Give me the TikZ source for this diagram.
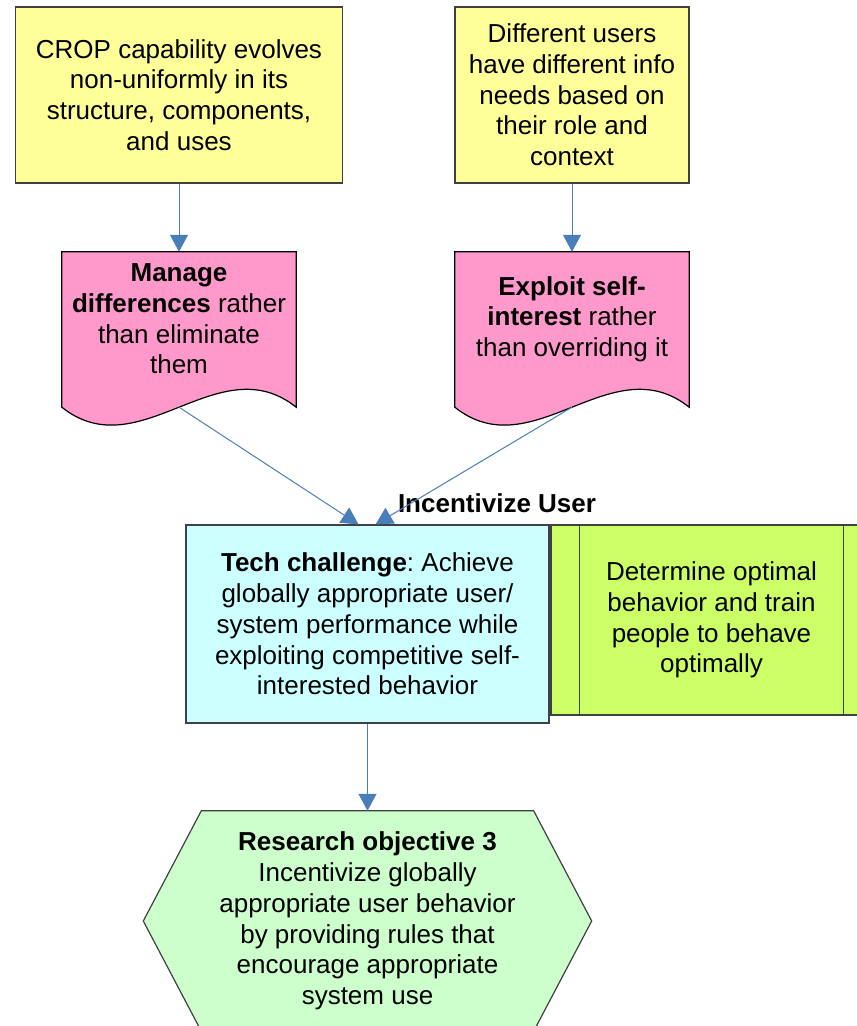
\documentclass[tikz,border=0pt]{standalone}
\usepackage{fontspec}
\setmainfont{Liberation Sans}
\usetikzlibrary{arrows.meta,backgrounds}

\definecolor{notefill}{HTML}{FFFF99}
\definecolor{docfill}{HTML}{FF99CC}
\definecolor{techfill}{HTML}{CCFFFF}
\definecolor{altfill}{HTML}{CCFF66}
\definecolor{goalfill}{HTML}{CCFFCC}
\definecolor{linkblue}{HTML}{4A7EBB}
\definecolor{edgegray}{HTML}{404040}

\tikzset{
  every node/.style={font=\fontsize{26pt}{30.7pt}\selectfont\frenchspacing, align=center},
  notebox/.style={draw=edgegray, line width=1.2pt, fill=notefill, minimum height=176pt, inner sep=0pt},
  docbox/.style={minimum width=234pt, minimum height=134pt, inner sep=0pt},
  docshape/.style={draw=black, line width=1.2pt, fill=docfill},
  techbox/.style={draw=edgegray, line width=1.2pt, fill=techfill, minimum width=363pt, minimum height=198pt, inner sep=0pt},
  altbox/.style={draw=edgegray, line width=1.2pt, fill=altfill, minimum width=321pt, minimum height=190pt, inner sep=0pt},
  goalbox/.style={minimum width=448pt, minimum height=220pt, inner sep=0pt},
  goalshape/.style={draw=edgegray, line width=1.2pt, fill=goalfill},
  link/.style={draw=linkblue, line width=1pt, -{Triangle[width=18pt,length=17pt]}}
}

\begin{document}
\begin{tikzpicture}[x=1pt, y=-1pt]
  % Frame
  \useasboundingbox (0,0) rectangle (857,1026);
  % Causes
  \node[notebox, minimum width=327pt] (crop) at (179,95) {CROP capability evolves\\non-uniformly in its\\structure, components,\\and uses};
  \node[notebox, minimum width=234pt] (users) at (572,95) {Different users\\have different info\\needs based on\\their role and\\context};
  % Principles
  \node[docbox] (manage) at (179,319) {\textbf{Manage}\\\textbf{differences} rather\\than eliminate\\them};
  \node[docbox] (exploit) at (572,319) {\textbf{Exploit self-}\\\textbf{interest} rather\\than overriding it};
  % Challenge and alternative
  \node[techbox] (tech) at (367.5,624) {\textbf{Tech challenge}: Achieve\\globally appropriate user/\\system performance while\\exploiting competitive self-\\interested behavior};
  \node[altbox] (alt) at (711.5,620) {Determine optimal\\behavior and train\\people to behave\\optimally};
  \draw[edgegray, line width=1.2pt] ([xshift=29pt]alt.north west) -- ([xshift=29pt]alt.south west)
    ([xshift=-29pt]alt.north east) -- ([xshift=-29pt]alt.south east);
  \node (altlabel) at (497,503) {\textbf{Incentivize User}};
  % Objective
  \node[goalbox] (goal) at (367.5,921) {\textbf{Research objective 3}\\Incentivize globally\\appropriate user behavior\\by providing rules that\\encourage appropriate\\system use};
  % Shapes behind the text
  \begin{scope}[on background layer]
    \foreach \d in {manage, exploit}
      \draw[docshape] (\d.north west) -- (\d.north east) -- ([yshift=-21pt]\d.south east)
        .. controls ([xshift=-78pt, yshift=41pt]\d.south east) and ([xshift=78pt, yshift=-83pt]\d.south west)
        .. ([yshift=-21pt]\d.south west) -- cycle;
    \draw[goalshape] (goal.west) -- ([xshift=58pt]goal.north west) -- ([xshift=-58pt]goal.north east)
      -- (goal.east) -- ([xshift=-58pt]goal.south east) -- ([xshift=58pt]goal.south west) -- cycle;
  \end{scope}
  % Connectors
  \draw[link] (crop) -- (manage);
  \draw[link] (users) -- (exploit);
  \draw[link] ([yshift=-21pt]manage.south) -- ([xshift=-9pt]tech.north);
  \draw[link] ([yshift=-21pt]exploit.south) -- ([xshift=8pt]tech.north);
  \draw[link] (tech) -- (goal);
\end{tikzpicture}
\end{document}
